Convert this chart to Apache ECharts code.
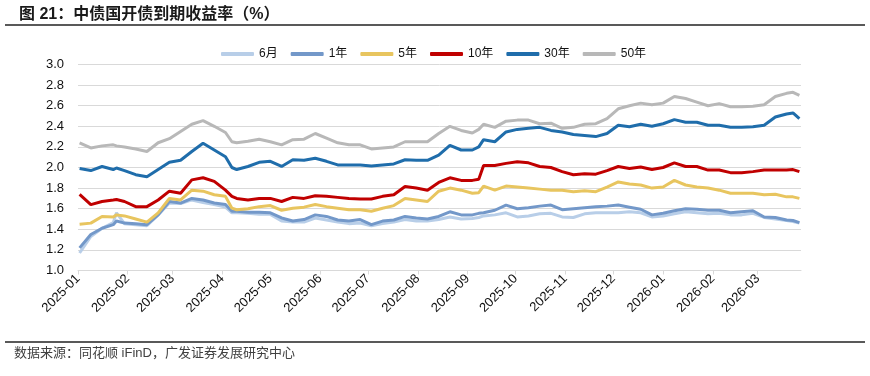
<!DOCTYPE html>
<html><head><meta charset="utf-8">
<script src="https://cdn.jsdelivr.net/npm/echarts@6/dist/echarts.min.js"></script>
<style>html,body{margin:0;padding:0;background:#fff}#c{width:870px;height:376px}</style>
</head><body><div id="c"></div>
<script>
const dates = ['2025-01-02','2025-01-09','2025-01-16','2025-01-23','2025-01-25','2025-01-30','2025-02-06','2025-02-13','2025-02-20','2025-02-27',
'2025-03-06','2025-03-13','2025-03-20','2025-03-27','2025-04-03','2025-04-07','2025-04-10','2025-04-17','2025-04-24','2025-05-01',
'2025-05-08','2025-05-15','2025-05-22','2025-05-29','2025-06-05','2025-06-12','2025-06-19','2025-06-26','2025-07-03','2025-07-10',
'2025-07-17','2025-07-24','2025-07-31','2025-08-07','2025-08-14','2025-08-21','2025-08-28','2025-09-04','2025-09-08','2025-09-11',
'2025-09-18','2025-09-25','2025-10-02','2025-10-09','2025-10-16','2025-10-23','2025-10-30','2025-11-06','2025-11-13','2025-11-20',
'2025-11-27','2025-12-04','2025-12-11','2025-12-18','2025-12-25','2026-01-01','2026-01-08','2026-01-15','2026-01-22','2026-01-29',
'2026-02-05','2026-02-12','2026-02-19','2026-02-26','2026-03-05','2026-03-12','2026-03-19','2026-03-23','2026-03-27'];

const y6m = [1.17,1.33,1.41,1.465,1.56,1.455,1.445,1.435,1.54,1.655,1.65,1.685,1.66,1.64,1.615,1.56,1.56,1.555,1.545,1.545,1.48,1.47,1.47,1.51,1.49,1.47,1.455,1.46,1.435,1.455,1.47,1.495,1.48,1.48,1.495,1.52,1.50,1.505,1.515,1.53,1.54,1.56,1.52,1.53,1.55,1.555,1.52,1.515,1.55,1.56,1.56,1.56,1.57,1.56,1.52,1.53,1.55,1.57,1.56,1.55,1.555,1.54,1.54,1.555,1.515,1.50,1.485,1.475,1.46];
const y1y = [1.22,1.35,1.41,1.445,1.48,1.46,1.455,1.445,1.54,1.67,1.655,1.70,1.685,1.655,1.64,1.575,1.575,1.565,1.565,1.56,1.51,1.48,1.495,1.54,1.525,1.49,1.48,1.495,1.445,1.48,1.49,1.525,1.51,1.50,1.525,1.57,1.54,1.54,1.555,1.56,1.585,1.635,1.60,1.61,1.625,1.635,1.59,1.60,1.61,1.62,1.625,1.635,1.615,1.595,1.54,1.555,1.58,1.60,1.595,1.585,1.585,1.56,1.57,1.58,1.52,1.515,1.49,1.485,1.465];
const y5y = [1.45,1.46,1.525,1.52,1.54,1.53,1.50,1.47,1.56,1.70,1.685,1.78,1.77,1.735,1.72,1.605,1.59,1.60,1.62,1.63,1.585,1.605,1.615,1.64,1.62,1.605,1.59,1.59,1.575,1.605,1.63,1.70,1.685,1.67,1.77,1.80,1.78,1.75,1.755,1.82,1.78,1.82,1.81,1.80,1.79,1.78,1.78,1.765,1.775,1.765,1.81,1.86,1.84,1.83,1.80,1.81,1.875,1.83,1.81,1.80,1.78,1.75,1.75,1.75,1.735,1.74,1.715,1.715,1.70];
const y10y = [1.74,1.64,1.67,1.685,1.69,1.67,1.62,1.62,1.685,1.77,1.75,1.88,1.90,1.865,1.78,1.72,1.70,1.685,1.70,1.70,1.67,1.71,1.70,1.725,1.72,1.71,1.70,1.695,1.695,1.72,1.735,1.815,1.80,1.78,1.855,1.90,1.875,1.875,1.885,2.02,2.02,2.04,2.055,2.045,2.01,2.00,1.96,1.93,1.94,1.935,1.97,2.01,1.99,2.005,1.98,2.00,2.045,2.01,2.01,1.975,1.975,1.95,1.95,1.96,1.975,1.975,1.975,1.98,1.96];
const y30y = [1.99,1.97,2.01,1.98,1.995,1.97,1.93,1.91,1.98,2.05,2.07,2.155,2.235,2.17,2.105,2.00,1.98,2.01,2.05,2.06,2.01,2.075,2.07,2.09,2.06,2.025,2.025,2.025,2.015,2.025,2.035,2.075,2.07,2.07,2.12,2.215,2.17,2.17,2.20,2.27,2.25,2.345,2.37,2.38,2.39,2.36,2.345,2.32,2.31,2.30,2.33,2.41,2.395,2.42,2.40,2.425,2.465,2.44,2.44,2.41,2.41,2.39,2.39,2.395,2.41,2.49,2.52,2.53,2.475];
const y50y = [2.24,2.19,2.21,2.22,2.21,2.20,2.18,2.155,2.24,2.28,2.35,2.42,2.455,2.40,2.34,2.25,2.24,2.255,2.275,2.25,2.22,2.27,2.275,2.33,2.285,2.24,2.22,2.22,2.18,2.19,2.20,2.25,2.25,2.25,2.33,2.40,2.36,2.335,2.37,2.42,2.39,2.45,2.46,2.46,2.425,2.43,2.38,2.39,2.42,2.425,2.475,2.57,2.60,2.625,2.61,2.625,2.69,2.67,2.635,2.60,2.62,2.59,2.59,2.595,2.61,2.69,2.72,2.73,2.70];

const seriesNames = ['6月','1年','5年','10年','30年','50年'];
const seriesValues = [y6m, y1y, y5y, y10y, y30y, y50y];
const seriesColors = ['#b8cee8','#7398c9','#e8c55f','#c00000','#1f6dab','#b8b8b8'];

const FONT = '"Liberation Sans", Arial, "Noto Sans CJK SC", sans-serif';
const chart = echarts.init(document.getElementById('c'), null, {renderer:'canvas'});
const DAY = 86400000;
chart.setOption({
  animation: false,
  backgroundColor: '#fff',
  textStyle: {fontFamily: FONT},
  title: {
    text: '图 21：中债国开债到期收益率（%）',
    left: 14, top: 2,
    textStyle: {fontSize: 16, fontWeight: 'bold', color: '#1a1a1a', fontFamily: FONT}
  },
  graphic: [
    {type:'line', shape:{x1:5,y1:25,x2:865,y2:25}, style:{stroke:'#222', lineWidth:1.5}},
    {type:'line', shape:{x1:5,y1:342,x2:865,y2:342}, style:{stroke:'#222', lineWidth:1.5}},
    {type:'text', left: 14, top: 347, style:{text:'数据来源：同花顺 iFinD，广发证券发展研究中心', font:'13px ' + FONT, fill:'#404040'}}
  ],
  legend: {
    left: 216, top: 43,
    icon: 'roundRect', itemWidth: 33, itemHeight: 4, itemGap: 13,
    textStyle: {fontSize: 12, color: '#111', fontFamily: FONT},
    data: seriesNames
  },
  grid: {left: 78, right: 69, top: 64.5, bottom: 105.5},
  xAxis: {
    type: 'time',
    min: '2025-01-01', max: '2026-03-28',
    minInterval: 28*DAY, maxInterval: 31*DAY,
    axisLine: {show: true, lineStyle: {color: '#d9d9d9', width: 1}},
    axisTick: {show: true, length: 4, lineStyle: {color: '#d9d9d9'}},
    splitLine: {show: false},
    axisLabel: {formatter: '{yyyy}-{MM}', rotate: 45, fontSize: 13, color: '#111', margin: 6, hideOverlap: false, fontFamily: FONT}
  },
  yAxis: {
    type: 'value', min: 1.0, max: 3.0, interval: 0.2,
    axisLine: {show: false}, axisTick: {show: false},
    splitLine: {lineStyle: {color: '#d9d9d9', width: 1}},
    axisLabel: {formatter: v => v.toFixed(1), fontSize: 13, color: '#111', margin: 14, fontFamily: FONT}
  },
  series: seriesNames.map((n, i) => ({
    name: n, type: 'line', showSymbol: false, symbol: 'none',
    data: dates.map((d, j) => [d, seriesValues[i][j]]),
    lineStyle: {width: 3, color: seriesColors[i]},
    itemStyle: {color: seriesColors[i]}
  }))
});
</script></body></html>
